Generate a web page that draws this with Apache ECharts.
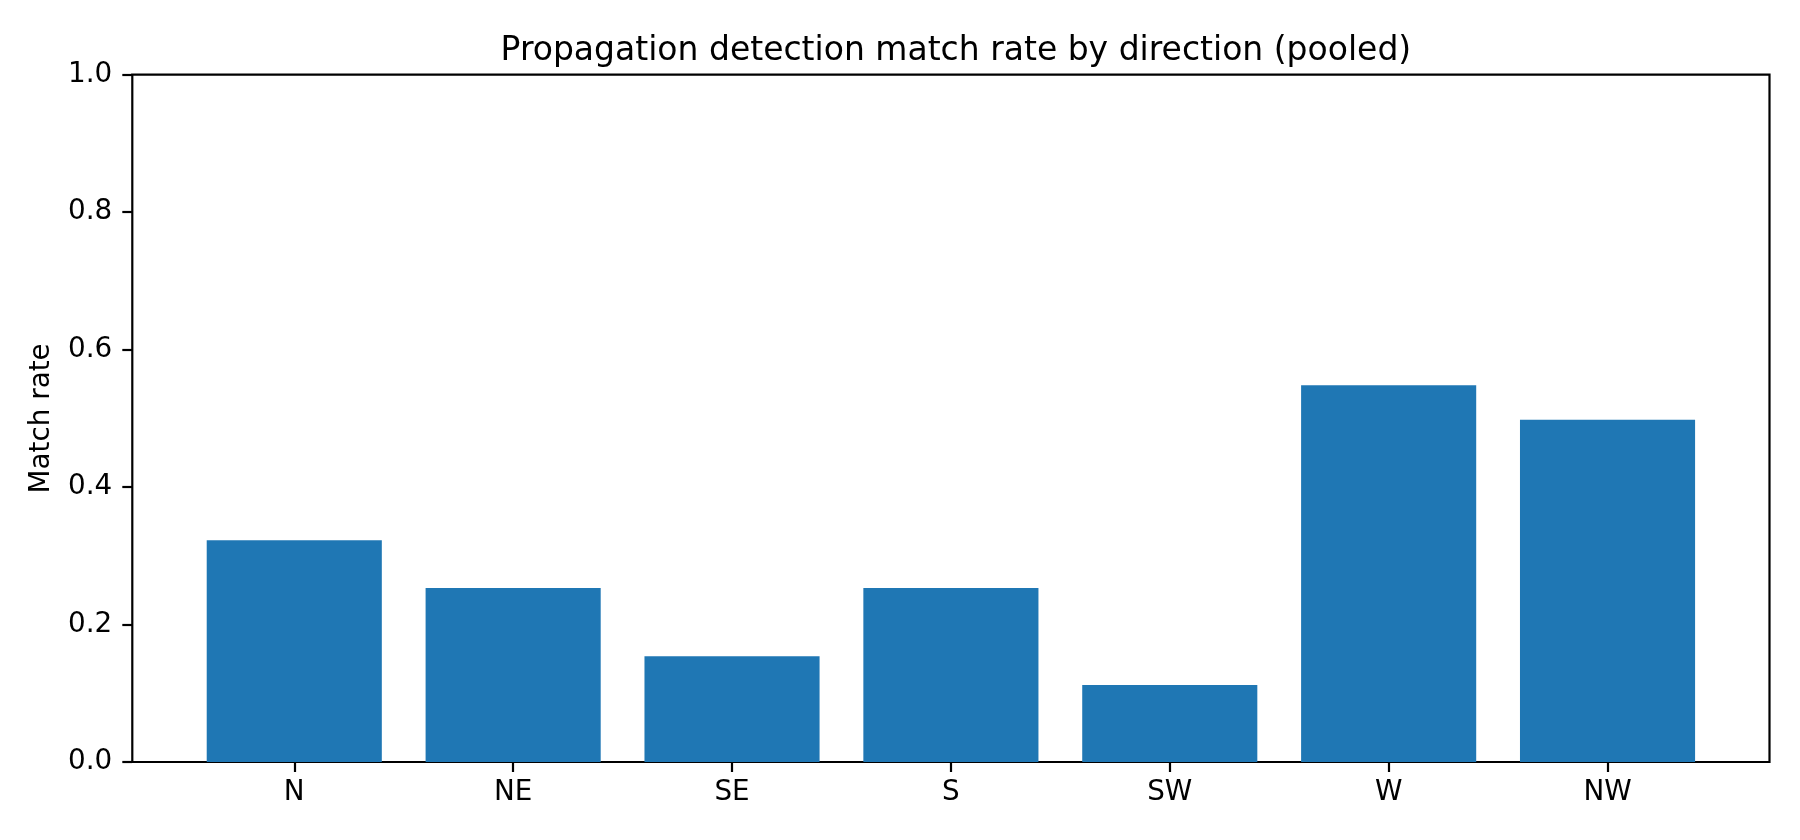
<!DOCTYPE html>
<html>
<head>
<meta charset="utf-8">
<script src="https://cdn.jsdelivr.net/npm/echarts@6/dist/echarts.min.js"></script>
<style>
html,body{margin:0;padding:0;background:#fff;}
#c{width:1800px;height:840px;}
</style>
</head>
<body>
<div id="c"></div>
<script>
const categories = ['N', 'NE', 'SE', 'S', 'SW', 'W', 'NW'];
const matchRate = [0.3225, 0.253, 0.154, 0.253, 0.112, 0.548, 0.498];
const yTicks = [0, 0.2, 0.4, 0.6, 0.8, 1.0];

const FONT = 'DejaVu Sans';
const plotLeft = 132.3, plotTop = 74.7, plotW = 1637.2, plotH = 687.3;
const band = plotW / 7.48;
const innerLeft = plotLeft + 0.24 * band;
const innerW = 7 * band;

const chart = echarts.init(document.getElementById('c'), null, {renderer: 'canvas'});
chart.setOption({
  animation: false,
  backgroundColor: '#ffffff',
  title: {
    text: 'Propagation detection match rate by direction (pooled)',
    left: plotLeft + plotW / 2,
    textAlign: 'center',
    top: 30,
    textStyle: {fontFamily: FONT, fontSize: 33, fontWeight: 'normal', color: '#000', lineHeight: 33}
  },
  grid: [
    {left: plotLeft, top: plotTop, width: plotW, height: plotH, show: true,
     borderColor: '#000', borderWidth: 2.2, backgroundColor: 'transparent', containLabel: false},
    {left: innerLeft, top: plotTop, width: innerW, height: plotH, containLabel: false}
  ],
  xAxis: [
    {type: 'category', gridIndex: 1, data: categories,
     axisLine: {show: false},
     axisTick: {show: true, alignWithLabel: true, length: 10, lineStyle: {color: '#000', width: 2.2}},
     axisLabel: {fontFamily: FONT, fontSize: 27.8, color: '#000', margin: 17, lineHeight: 28},
     splitLine: {show: false}},
    {type: 'value', gridIndex: 0, show: false, min: 0, max: 1}
  ],
  yAxis: [
    {type: 'value', gridIndex: 0, min: 0, max: 1, interval: 0.2,
     axisLine: {show: false},
     axisTick: {show: true, length: 10, lineStyle: {color: '#000', width: 2.2}},
     axisLabel: {fontFamily: FONT, fontSize: 27.8, color: '#000', margin: 20,
       formatter: v => v.toFixed(1)},
     splitLine: {show: false},
     name: 'Match rate', nameLocation: 'middle', nameGap: 77, nameRotate: 90,
     nameTextStyle: {fontFamily: FONT, fontSize: 27.8, color: '#000', lineHeight: 28}},
    {type: 'value', gridIndex: 1, min: 0, max: 1, show: false}
  ],
  series: [{
    type: 'bar', xAxisIndex: 0, yAxisIndex: 1,
    data: matchRate,
    barCategoryGap: '20%',
    itemStyle: {color: '#1f77b4'}
  }]
});
</script>
</body>
</html>
